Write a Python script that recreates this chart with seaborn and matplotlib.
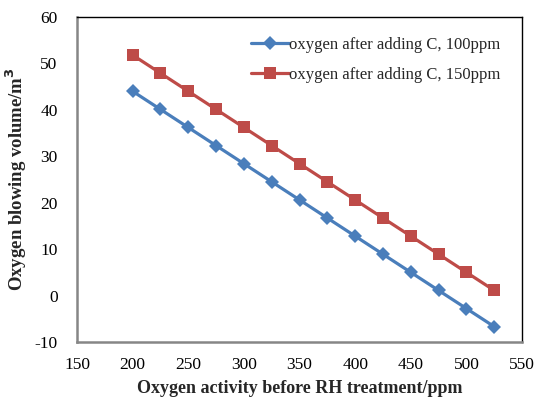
import matplotlib
matplotlib.use("Agg")
import matplotlib.pyplot as plt
import seaborn as sns
import pandas as pd

oxygen_activity = [200, 225, 250, 275, 300, 325, 350, 375, 400, 425, 450, 475, 500, 525]
blow_100ppm = [44.0, 40.1, 36.2, 32.3, 28.4, 24.5, 20.6, 16.7, 12.8, 8.9, 5.0, 1.1, -2.8, -6.7]
blow_150ppm = [51.8, 47.9, 44.0, 40.1, 36.2, 32.3, 28.4, 24.5, 20.6, 16.7, 12.8, 8.9, 5.0, 1.1]
series_names = ["oxygen after adding C, 100ppm", "oxygen after adding C, 150ppm"]

df = pd.concat([
    pd.DataFrame({"x": oxygen_activity, "y": blow_100ppm, "series": series_names[0]}),
    pd.DataFrame({"x": oxygen_activity, "y": blow_150ppm, "series": series_names[1]}),
])

sns.set_style("white")
plt.rcParams["font.family"] = ["Liberation Serif", "DejaVu Serif"]
plt.rcParams["axes.unicode_minus"] = False

fig = plt.figure(figsize=(5.36, 3.99), dpi=100)
ax = fig.add_axes([0.1437, 0.1429, 0.8303, 0.8145])

palette = {series_names[0]: "#4A7EBB", series_names[1]: "#BE4B48"}
markers = {series_names[0]: "D", series_names[1]: "s"}
sns.lineplot(data=df, x="x", y="y", hue="series", style="series",
             palette=palette, markers=markers, dashes=False,
             linewidth=2.3, markersize=8, markeredgewidth=0, ax=ax)
for line in ax.get_lines():
    if line.get_marker() == "D":
        line.set_markersize(7.5)
    elif line.get_marker() == "s":
        line.set_markersize(8.2)

ax.set_xlim(150, 550)
ax.set_ylim(-10, 60)
ax.set_xticks(range(150, 551, 50))
ax.set_yticks(range(-10, 61, 10))
ax.tick_params(axis="both", direction="in", length=4, width=1.2,
               colors="#868686", labelcolor="black", labelsize=12.5)
ax.tick_params(axis="y", pad=14)
ax.tick_params(axis="x", pad=11)

for side in ["left", "bottom"]:
    ax.spines[side].set_color("#868686")
    ax.spines[side].set_linewidth(1.8)
for side in ["top", "right"]:
    ax.spines[side].set_color("black")
    ax.spines[side].set_linewidth(1.0)

ax.set_xlabel("Oxygen activity before RH treatment/ppm", fontsize=13, fontweight="bold", labelpad=5)
ax.set_ylabel("Oxygen blowing volume/m$^\\mathbf{3}$", fontsize=13.5, fontweight="bold", labelpad=4)

leg = ax.legend(loc="upper right", bbox_to_anchor=(0.985, 0.985), frameon=False,
                fontsize=12, handlelength=2.3, handletextpad=0.0, labelspacing=0.85)

fig.savefig("out.png", dpi=100)
